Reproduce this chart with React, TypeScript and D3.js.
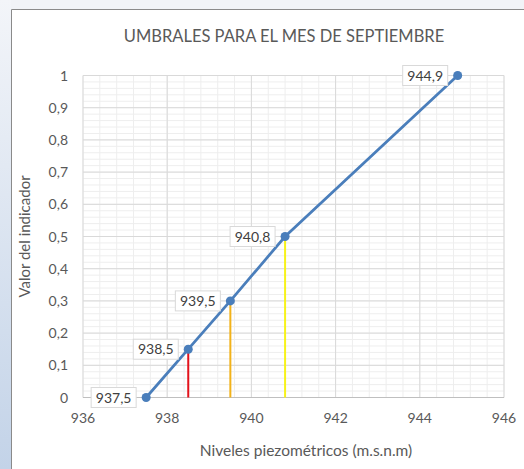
import React from "react";
import * as d3 from "d3";

const levels = [937.5, 938.5, 939.5, 940.8, 944.9];
const indicator = [0, 0.15, 0.3, 0.5, 1];
const pointLabels = ["937,5", "938,5", "939,5", "940,8", "944,9"];
const thresholdLevels = [938.5, 939.5, 940.8];
const thresholdValues = [0.15, 0.3, 0.5];
const thresholdColors = ["#e3121b", "#f2b21a", "#f7f21a"];
const xTicks = [936, 938, 940, 942, 944, 946];
const yTicks = [0, 0.1, 0.2, 0.3, 0.4, 0.5, 0.6, 0.7, 0.8, 0.9, 1];

const W = 524;
const H = 469;
const FONT = "Lato, 'Open Sans', sans-serif";

export default function App() {
  const x = d3.scaleLinear().domain([936, 946]).range([83, 504]);
  const y = d3.scaleLinear().domain([0, 1]).range([397.5, 75.5]);
  const minorX = d3.range(936, 946.001, 0.4);
  const minorY = d3.range(0, 1.0001, 0.02);
  const fmt = (v: number) => (v === 0 || v === 1 ? String(v) : d3.format(".1f")(v).replace(".", ","));
  const line = d3
    .line<number>()
    .x((_, i) => x(levels[i]))
    .y((d) => y(d));

  return (
    <div style={{ position: "absolute", left: 0, top: 0 }}>
      <svg width={W} height={H} style={{ display: "block" }}>
        <defs>
          <linearGradient id="side" x1="0" y1="0" x2="0" y2="1">
            <stop offset="0" stopColor="#f3f5f9" />
            <stop offset="1" stopColor="#c3d3e8" />
          </linearGradient>
        </defs>
        <rect x={0} y={0} width={W} height={H} fill="#ffffff" />
        <rect x={0} y={0} width={W} height={9} fill="#f1f3f7" />
        <rect x={0} y={0} width={11} height={H} fill="url(#side)" />
        <line x1={11.5} y1={9.5} x2={W} y2={9.5} stroke="#8a8a8a" />
        <line x1={11.5} y1={9.5} x2={11.5} y2={H} stroke="#8a8a8a" />

        {/* minor grid */}
        {minorX.map((v, i) => (
          <line key={"mx" + i} x1={x(v)} x2={x(v)} y1={y(0)} y2={y(1)} stroke="#eeeeee" />
        ))}
        {minorY.map((v, i) => (
          <line key={"my" + i} x1={x(936)} x2={x(946)} y1={y(v)} y2={y(v)} stroke="#eeeeee" />
        ))}
        {/* major grid */}
        {xTicks.map((v) => (
          <line key={"gx" + v} x1={x(v)} x2={x(v)} y1={y(0)} y2={y(1)} stroke="#d9d9d9" />
        ))}
        {yTicks.map((v) => (
          <line key={"gy" + v} x1={x(936)} x2={x(946)} y1={y(v)} y2={y(v)} stroke="#d9d9d9" />
        ))}
        <line x1={x(936)} x2={x(946)} y1={y(0)} y2={y(0)} stroke="#bfbfbf" />

        {/* tick labels */}
        {yTicks.map((v) => (
          <text key={"ty" + v} x={68} y={y(v) + 5} textAnchor="end" fontFamily={FONT} fontSize={14} fill="#595959">
            {fmt(v)}
          </text>
        ))}
        {xTicks.map((v) => (
          <text key={"tx" + v} x={x(v)} y={423} textAnchor="middle" fontFamily={FONT} fontSize={14} fill="#595959">
            {v}
          </text>
        ))}

        {/* threshold lines */}
        {thresholdLevels.map((v, i) => (
          <line
            key={"th" + i}
            x1={x(v)}
            x2={x(v)}
            y1={y(0)}
            y2={y(thresholdValues[i])}
            stroke={thresholdColors[i]}
            strokeWidth={2}
          />
        ))}

        {/* series */}
        <path d={line(indicator) || ""} fill="none" stroke="#4a7ebb" strokeWidth={2.75} />
        {indicator.map((v, i) => (
          <circle key={"pt" + i} cx={x(levels[i])} cy={y(v)} r={4.5} fill="#4a7ebb" />
        ))}

        {/* data labels */}
        {indicator.map((v, i) => {
          const bx = x(levels[i]) - 10 - 45;
          const by = y(v) - 10;
          return (
            <g key={"lb" + i}>
              <rect x={bx} y={by} width={45} height={20} fill="#ffffff" stroke="#d9d9d9" />
              <text x={bx + 22.5} y={by + 15} textAnchor="middle" fontFamily={FONT} fontSize={14} fill="#404040">
                {pointLabels[i]}
              </text>
            </g>
          );
        })}

        {/* titles */}
        <text x={284} y={42} textAnchor="middle" fontFamily={FONT} fontSize={16.5} fill="#595959">
          UMBRALES PARA EL MES DE SEPTIEMBRE
        </text>
        <text x={306} y={456} textAnchor="middle" fontFamily={FONT} fontSize={15.5} fill="#595959">
          Niveles piezométricos (m.s.n.m)
        </text>
        <text
          transform={`translate(30, ${(y(0) + y(1)) / 2}) rotate(-90)`}
          textAnchor="middle"
          fontFamily={FONT}
          fontSize={15}
          fill="#595959"
        >
          Valor del indicador
        </text>
      </svg>
    </div>
  );
}
